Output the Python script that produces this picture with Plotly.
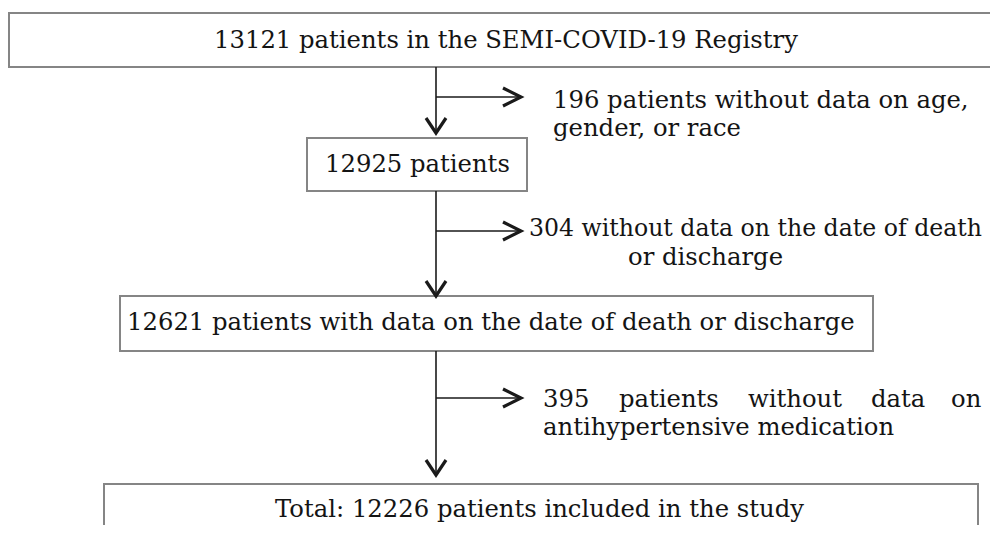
import plotly.graph_objects as go

# ---- data ----
stage_counts = [13121, 12925, 12621, 12226]
stage_labels = [
    "{} patients in the SEMI-COVID-19 Registry",
    "{} patients",
    "{} patients with data on the date of death or discharge",
    "Total: {} patients included in the study",
]
excluded_counts = [196, 304, 395]
excluded_line1 = [
    "{} patients without data on age,",
    "{} without data on the date of death",
    "{} patients without data on",
]
excluded_line2 = ["gender, or race", "or discharge", "antihypertensive medication"]

# ---- layout geometry (page pixel coordinates) ----
PAGE_W, PAGE_H = 998, 533
BODY_MARGIN = 8  # default html body margin
W, H = PAGE_W - 2 * BODY_MARGIN, PAGE_H - 2 * BODY_MARGIN
FONT = "DejaVu Serif"
FS = 24.3
TXT = "#141414"
BOX_COL = "#858585"
ARR_COL = "#1a1a1a"

boxes = [  # x0, x1, y0, y1, text_x, text_y
    (9, 1010, 13, 67, 506, 39),
    (307, 527, 138, 191, 417, 163),
    (120, 873, 296, 351, 491, 321),
    (104, 978, 484, 545, 539, 508),
]
stem_x = 436
branches = [  # branch_y, arrow_down_tip_y, stem_y0
    (97, 133, 67),
    (231, 296, 191),
    (398, 475, 351),
]
side_text = [  # (x, y, anchor, size)
    ((551, 99, "left", FS), (551, 127, "left", FS)),
    ((527, 228, "left", 23.6), (705, 256, "center", FS)),
    (None, (541, 426, "left", FS)),
]

fig = go.Figure()
fig.add_trace(go.Scatter(x=[100], y=[100], mode="markers", marker=dict(opacity=0),
                         hoverinfo="skip", showlegend=False))

shapes = []
annotations = []

for (x0, x1, y0, y1, tx, ty), cnt, lab in zip(boxes, stage_counts, stage_labels):
    shapes.append(dict(type="rect", x0=x0, x1=x1, y0=y0, y1=y1,
                       line=dict(color=BOX_COL, width=2), fillcolor="white", layer="below"))
    annotations.append(dict(x=tx, y=ty, text=lab.format(cnt), showarrow=False,
                            xanchor="center", yanchor="middle",
                            font=dict(family=FONT, size=FS, color=TXT)))

for by, tip, sy0 in branches:
    shapes.append(dict(type="line", x0=stem_x, x1=stem_x, y0=sy0, y1=tip,
                       line=dict(color=ARR_COL, width=1.6)))
    shapes.append(dict(type="path",
                       path=f"M {stem_x-10} {tip-15} L {stem_x} {tip} L {stem_x+10} {tip-15}",
                       line=dict(color=ARR_COL, width=3.2)))
    shapes.append(dict(type="line", x0=stem_x, x1=520, y0=by, y1=by,
                       line=dict(color=ARR_COL, width=1.6)))
    shapes.append(dict(type="path",
                       path=f"M 503 {by-9} L 521 {by} L 503 {by+9}",
                       line=dict(color=ARR_COL, width=3.2)))

for i, cnt in enumerate(excluded_counts):
    l1 = excluded_line1[i].format(cnt)
    l2 = excluded_line2[i]
    p1, p2 = side_text[i]
    if p1 is not None:
        annotations.append(dict(x=p1[0], y=p1[1], text=l1, showarrow=False,
                                xanchor=p1[2], yanchor="middle",
                                font=dict(family=FONT, size=p1[3], color=TXT)))
    else:
        # justified line: place words individually
        words = l1.split()
        xs = [541, 617, 746, 869, 983]
        anchors = ["left", "left", "left", "left", "right"]
        for w, x, a in zip(words, xs, anchors):
            annotations.append(dict(x=x, y=398, text=w, showarrow=False,
                                    xanchor=a, yanchor="middle",
                                    font=dict(family=FONT, size=FS, color=TXT)))
    annotations.append(dict(x=p2[0], y=p2[1], text=l2, showarrow=False,
                            xanchor=p2[2], yanchor="middle",
                            font=dict(family=FONT, size=p2[3], color=TXT)))

fig.update_layout(
    width=W, height=H,
    margin=dict(l=0, r=0, t=0, b=0),
    paper_bgcolor="white", plot_bgcolor="white",
    xaxis=dict(range=[BODY_MARGIN, BODY_MARGIN + W], visible=False, fixedrange=True),
    yaxis=dict(range=[BODY_MARGIN + H, BODY_MARGIN], visible=False, fixedrange=True),
    shapes=shapes, annotations=annotations,
    showlegend=False,
)

fig.write_html("out.html")
